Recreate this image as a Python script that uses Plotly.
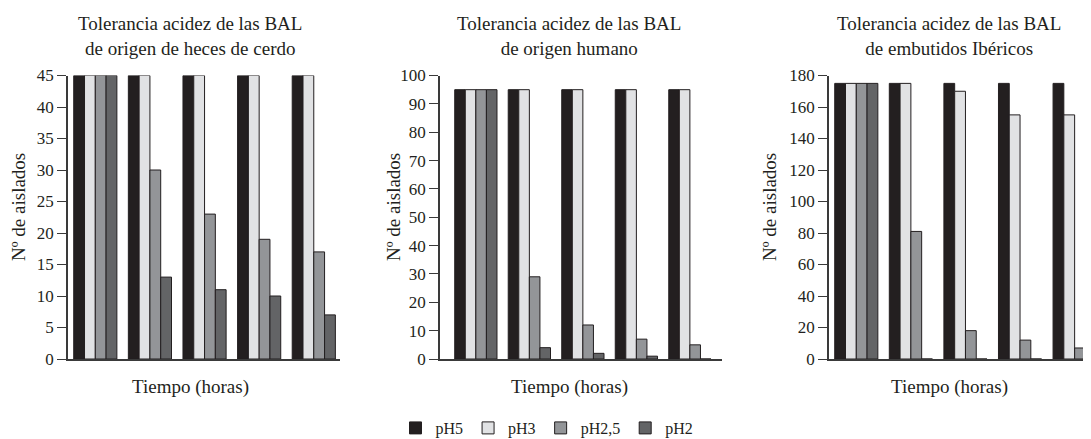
import plotly.graph_objects as go

# ---- data ----
groups = [0, 1, 2, 3, 4]
series_names = ["pH5", "pH3", "pH2,5", "pH2"]
series_colors = ["#231f20", "#e1e2e4", "#939598", "#636466"]

cerdo_pH5 = [45, 45, 45, 45, 45]
cerdo_pH3 = [45, 45, 45, 45, 45]
cerdo_pH25 = [45, 30, 23, 19, 17]
cerdo_pH2 = [45, 13, 11, 10, 7]

humano_pH5 = [95, 95, 95, 95, 95]
humano_pH3 = [95, 95, 95, 95, 95]
humano_pH25 = [95, 29, 12, 7, 5]
humano_pH2 = [95, 4, 2, 1, 0]

iber_pH5 = [175, 175, 175, 175, 175]
iber_pH3 = [175, 175, 170, 155, 155]
iber_pH25 = [175, 81, 18, 12, 7]
iber_pH2 = [175, 0, 0, 0, 0]

titles = ["Tolerancia acidez de las BAL<br>de origen de heces de cerdo",
          "Tolerancia acidez de las BAL<br>de origen humano",
          "Tolerancia acidez de las BAL<br>de embutidos Ibéricos"]
y_title = "Nº de aislados"
x_title = "Tiempo (horas)"

panels = [
    [cerdo_pH5, cerdo_pH3, cerdo_pH25, cerdo_pH2],
    [humano_pH5, humano_pH3, humano_pH25, humano_pH2],
    [iber_pH5, iber_pH3, iber_pH25, iber_pH2],
]
y_ranges = [[0, 45], [0, 100], [0, 180]]
y_dticks = [5, 10, 20]

# ---- layout geometry (screen px; page body adds an 8px offset) ----
W, H = 1091, 439
OFF = 8
FONT = "Liberation Serif"
TXT = "#231f20"


def px_x(v):
    return (v - OFF) / W


def px_y(v):
    return 1 - (v - OFF) / H


x_doms_px = [(68, 340), (440, 722), (829, 1091)]
x_ranges = [[-0.5, 4.48], [-0.67, 4.6], [-0.5, 4.3]]
y_dom = [px_y(359), px_y(75.5)]
title_cx = [190, 569, 949]
ytitle_x = [18, 393, 769]

fig = go.Figure()
for p, vals in enumerate(panels):
    xa = "x" if p == 0 else f"x{p+1}"
    ya = "y" if p == 0 else f"y{p+1}"
    for s, name in enumerate(series_names):
        fig.add_trace(go.Bar(
            x=groups, y=vals[s], name=name,
            marker=dict(color=series_colors[s], line=dict(color="#231f20", width=1)),
            xaxis=xa, yaxis=ya, legendgroup=name, showlegend=(p == 0),
        ))

layout = dict(
    width=W, height=H,
    margin=dict(l=0, r=0, t=0, b=0, autoexpand=False),
    paper_bgcolor="white", plot_bgcolor="white",
    barmode="group", bargap=0.21, bargroupgap=0,
    font=dict(family=FONT, color=TXT, size=16),
    showlegend=True,
    legend=dict(orientation="h", x=px_x(547), xanchor="center", y=px_y(428), yanchor="middle",
                font=dict(size=16, family=FONT, color=TXT), itemwidth=30, tracegroupgap=0),
)
annotations = []
for p in range(3):
    sfx = "" if p == 0 else str(p + 1)
    x0, x1 = x_doms_px[p]
    layout["xaxis" + sfx] = dict(
        domain=[px_x(x0), min(1.0, px_x(x1))], range=x_ranges[p], anchor="y" + sfx,
        showline=True, linecolor="#3a3a3a", linewidth=1.5, automargin=False,
        showticklabels=False, ticks="", showgrid=False, zeroline=False, fixedrange=True,
    )
    layout["yaxis" + sfx] = dict(
        domain=y_dom, range=y_ranges[p], anchor="x" + sfx, dtick=y_dticks[p], tick0=0,
        showline=True, linecolor="#3a3a3a", linewidth=1.5, automargin=False,
        ticks="outside", ticklen=9, tickwidth=1.2, tickcolor="#3a3a3a",
        showgrid=False, zeroline=False, tickfont=dict(size=17, family=FONT, color=TXT),
    )
    annotations.append(dict(text=titles[p], x=px_x(title_cx[p]), y=px_y(36), xref="paper", yref="paper",
                            showarrow=False, xanchor="center", yanchor="middle",
                            font=dict(size=19, family=FONT, color=TXT)))
    annotations.append(dict(text=x_title, x=px_x(title_cx[p]), y=px_y(387), xref="paper", yref="paper",
                            showarrow=False, xanchor="center", yanchor="middle",
                            font=dict(size=19, family=FONT, color=TXT)))
    annotations.append(dict(text=y_title, x=px_x(ytitle_x[p]), y=px_y(207), xref="paper", yref="paper",
                            showarrow=False, xanchor="center", yanchor="middle", textangle=-90,
                            font=dict(size=19, family=FONT, color=TXT)))
layout["annotations"] = annotations
fig.update_layout(**layout)
fig.write_html("out.html")
